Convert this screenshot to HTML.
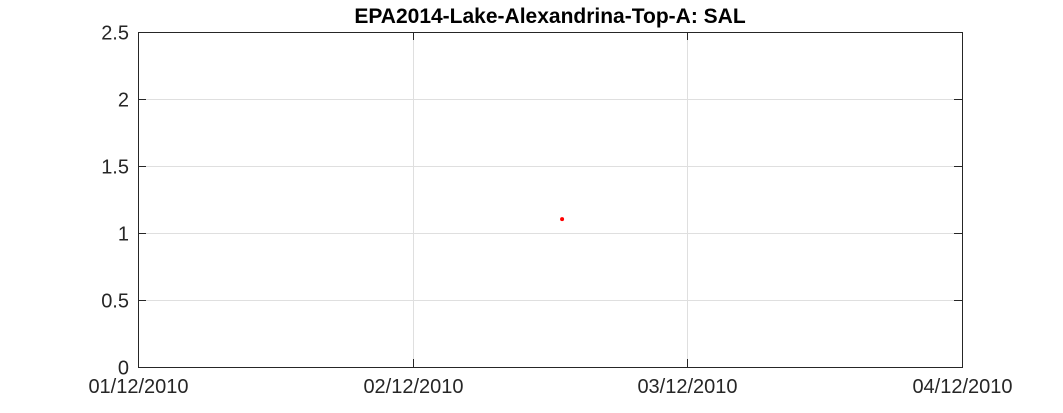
<!DOCTYPE html>
<html><head><meta charset="utf-8"><style>
body{margin:0;background:#fff;}
svg{display:block;font-family:"Liberation Sans",Arial,sans-serif;}
</style></head><body>
<svg id="chart" width="1063" height="413"></svg>
<script>
const xTickLabels=["01/12/2010","02/12/2010","03/12/2010","04/12/2010"];
const xTickDays=[0,1,2,3];
const yTicks=[0,0.5,1,1.5,2,2.5];
const yTickLabels=["0","0.5","1","1.5","2","2.5"];
const pointDays=[1.544];
const pointValues=[1.104];

const L=138,R=962,T=32,B=367;
const xMin=0,xMax=3,yMin=0,yMax=2.5;
const xs=d=>L+(d-xMin)/(xMax-xMin)*(R-L);
const ys=v=>B-(v-yMin)/(yMax-yMin)*(B-T);
const NS="http://www.w3.org/2000/svg";
const svg=document.getElementById('chart');
function mk(tag,attrs,parent){const e=document.createElementNS(NS,tag);for(const k in attrs)e.setAttribute(k,attrs[k]);(parent||svg).appendChild(e);return e;}

const bg=mk('rect',{x:L,y:T,width:R-L,height:B-T,fill:'#fff'});



const grid=mk('g',{stroke:'#dfdfdf','stroke-width':1});


xTickDays.forEach(d=>{const x=Math.round(xs(d))+0.5;mk('line',{x1:x,x2:x,y1:T,y2:B},grid);});
yTicks.forEach(v=>{const y=Math.round(ys(v))+0.5;mk('line',{x1:L,x2:R,y1:y,y2:y},grid);});

const frame=mk('rect',{x:L+0.5,y:T+0.5,width:R-L,height:B-T,fill:'none',stroke:'#262626','stroke-width':1});



const xt=mk('g',{});


xTickDays.forEach((d,i)=>{
  const x=Math.round(xs(d))+0.5;
  mk('line',{x1:x,x2:x,y1:B,y2:B-8,stroke:'#262626'},xt);
  mk('line',{x1:x,x2:x,y1:T,y2:T+8,stroke:'#262626'},xt);
  const t=mk('text',{x:x,y:B+26,'text-anchor':'middle','font-size':20,fill:'#262626'},xt);
  t.textContent=xTickLabels[i];
  
  
});
const yt=mk('g',{});


yTicks.forEach((v,i)=>{
  const y=Math.round(ys(v))+0.5;
  mk('line',{x1:L,x2:L+8,y1:y,y2:y,stroke:'#262626'},yt);
  mk('line',{x1:R,x2:R-8,y1:y,y2:y,stroke:'#262626'},yt);
  const t=mk('text',{x:L-9,y:y+7,'text-anchor':'end','font-size':20,fill:'#262626'},yt);
  t.textContent=yTickLabels[i];
  
  
});

pointDays.forEach((d,i)=>{
  const c=mk('circle',{cx:xs(d),cy:ys(pointValues[i]),r:2,fill:'#ff0000'});
  
  
});

const title=mk('text',{x:(L+R)/2,y:23,'text-anchor':'middle','font-size':21,'font-weight':'bold',fill:'#000'});
title.textContent='EPA2014-Lake-Alexandrina-Top-A: SAL';


</script>
</body></html>
